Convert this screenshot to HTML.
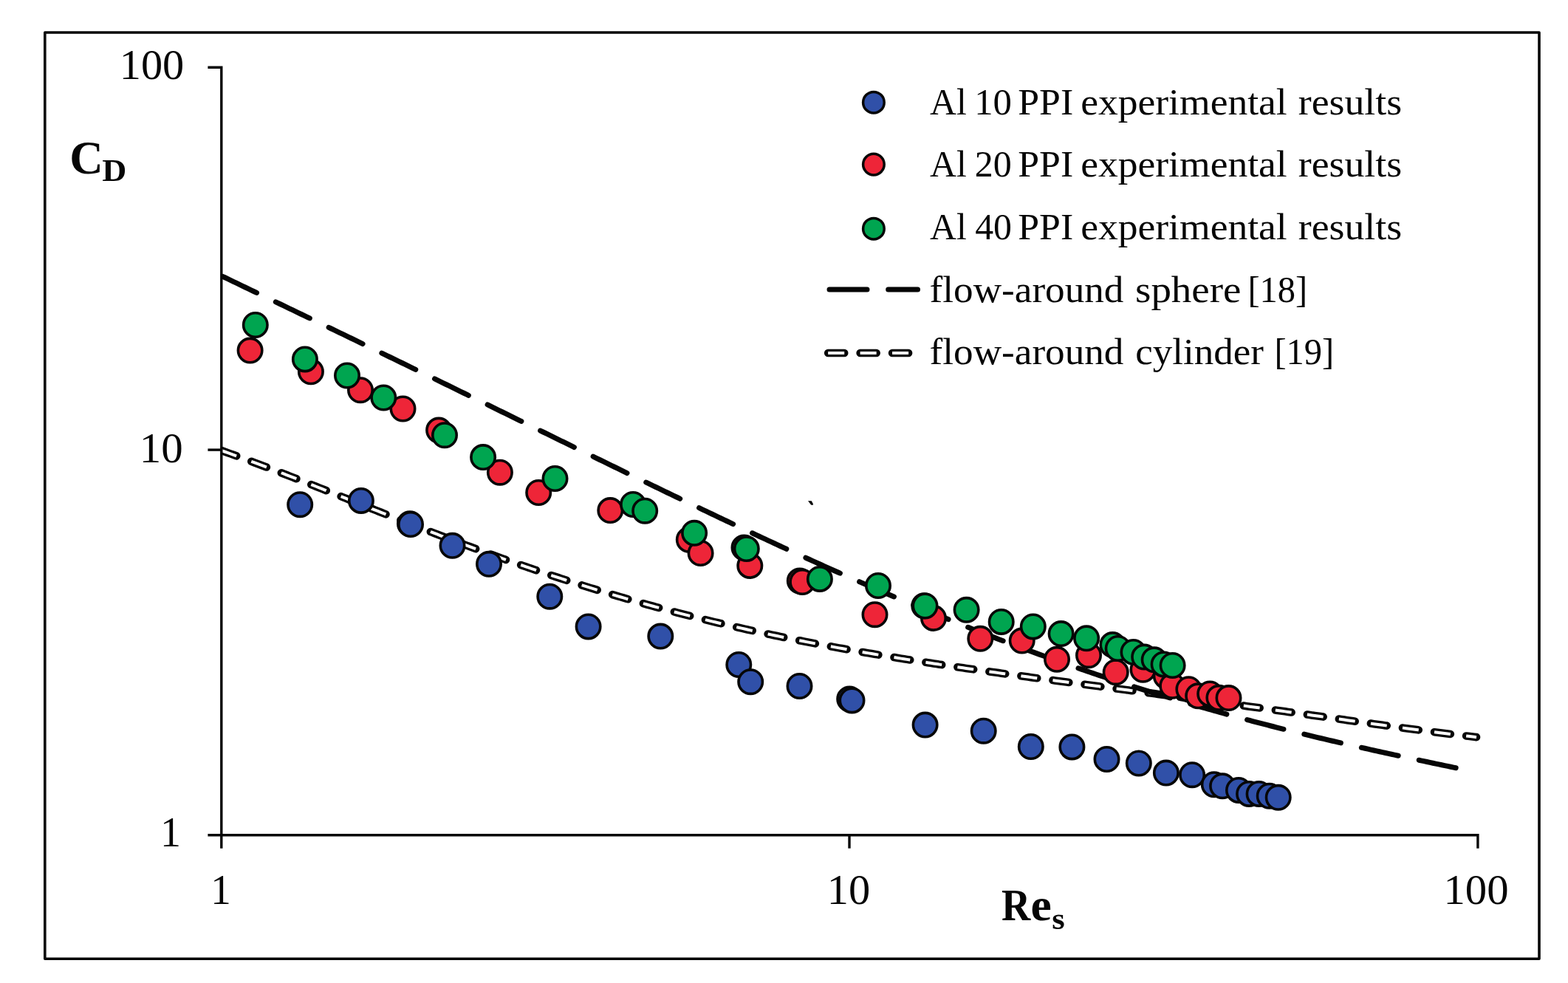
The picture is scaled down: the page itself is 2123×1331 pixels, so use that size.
<!DOCTYPE html>
<html><head><meta charset="utf-8"><style>
html,body{margin:0;padding:0;background:#fff;}
svg{display:block;}
text{font-family:"Liberation Serif","DejaVu Serif",serif;fill:#060606;}
</style></head><body>
<svg width="2123" height="1331" viewBox="0 0 2123 1331">
<rect x="0" y="0" width="2123" height="1331" fill="#fff"/>
<rect x="60.8" y="44" width="2023.2" height="1254.3" fill="none" stroke="#060606" stroke-width="3.6" stroke-linejoin="round"/>
<defs><clipPath id="pa"><rect x="300" y="60" width="1720" height="1071"/></clipPath></defs>
<g clip-path="url(#pa)" fill="none" stroke-linejoin="round">
<path d="M300.0,610.08 L304.0,611.50 L308.0,612.93 L312.0,614.37 L316.0,615.82 L320.0,617.28 L324.0,618.74 L328.0,620.21 L332.0,621.69 L336.0,623.18 L340.0,624.67 L344.0,626.17 L348.0,627.67 L352.0,629.18 L356.0,630.70 L360.0,632.22 L364.0,633.75 L368.0,635.29 L372.0,636.82 L376.0,638.37 L380.0,639.91 L384.0,641.47 L388.0,643.02 L392.0,644.58 L396.0,646.14 L400.0,647.71 L404.0,649.28 L408.0,650.85 L412.0,652.43 L416.0,654.01 L420.0,655.59 L424.0,657.17 L428.0,658.76 L432.0,660.34 L436.0,661.93 L440.0,663.52 L444.0,665.11 L448.0,666.71 L452.0,668.30 L456.0,669.89 L460.0,671.49 L464.0,673.08 L468.0,674.68 L472.0,676.27 L476.0,677.87 L480.0,679.47 L484.0,681.06 L488.0,682.66 L492.0,684.25 L496.0,685.84 L500.0,687.43 L504.0,689.03 L508.0,690.62 L512.0,692.20 L516.0,693.79 L520.0,695.38 L524.0,696.96 L528.0,698.54 L532.0,700.12 L536.0,701.70 L540.0,703.28 L544.0,704.85 L548.0,706.42 L552.0,707.99 L556.0,709.55 L560.0,711.11 L564.0,712.67 L568.0,714.23 L572.0,715.78 L576.0,717.33 L580.0,718.87 L584.0,720.42 L588.0,721.95 L592.0,723.49 L596.0,725.02 L600.0,726.55 L604.0,728.07 L608.0,729.59 L612.0,731.10 L616.0,732.61 L620.0,734.12 L624.0,735.62 L628.0,737.12 L632.0,738.61 L636.0,740.09 L640.0,741.58 L644.0,743.05 L648.0,744.53 L652.0,745.99 L656.0,747.46 L660.0,748.91 L664.0,750.36 L668.0,751.81 L672.0,753.25 L676.0,754.69 L680.0,756.12 L684.0,757.54 L688.0,758.96 L692.0,760.37 L696.0,761.78 L700.0,763.18 L704.0,764.58 L708.0,765.97 L712.0,767.35 L716.0,768.73 L720.0,770.10 L724.0,771.46 L728.0,772.82 L732.0,774.18 L736.0,775.52 L740.0,776.86 L744.0,778.20 L748.0,779.53 L752.0,780.85 L756.0,782.16 L760.0,783.47 L764.0,784.77 L768.0,786.07 L772.0,787.36 L776.0,788.64 L780.0,789.92 L784.0,791.19 L788.0,792.45 L792.0,793.70 L796.0,794.95 L800.0,796.20 L804.0,797.43 L808.0,798.66 L812.0,799.88 L816.0,801.10 L820.0,802.31 L824.0,803.51 L828.0,804.71 L832.0,805.90 L836.0,807.08 L840.0,808.25 L844.0,809.42 L848.0,810.58 L852.0,811.74 L856.0,812.89 L860.0,814.03 L864.0,815.16 L868.0,816.29 L872.0,817.41 L876.0,818.52 L880.0,819.63 L884.0,820.73 L888.0,821.83 L892.0,822.91 L896.0,823.99 L900.0,825.07 L904.0,826.13 L908.0,827.19 L912.0,828.25 L916.0,829.29 L920.0,830.33 L924.0,831.37 L928.0,832.39 L932.0,833.41 L936.0,834.43 L940.0,835.43 L944.0,836.43 L948.0,837.43 L952.0,838.41 L956.0,839.39 L960.0,840.37 L964.0,841.34 L968.0,842.30 L972.0,843.25 L976.0,844.20 L980.0,845.14 L984.0,846.08 L988.0,847.01 L992.0,847.93 L996.0,848.85 L1000.0,849.76 L1004.0,850.67 L1008.0,851.57 L1012.0,852.46 L1016.0,853.35 L1020.0,854.23 L1024.0,855.10 L1028.0,855.97 L1032.0,856.83 L1036.0,857.69 L1040.0,858.54 L1044.0,859.39 L1048.0,860.23 L1052.0,861.06 L1056.0,861.89 L1060.0,862.72 L1064.0,863.53 L1068.0,864.35 L1072.0,865.15 L1076.0,865.95 L1080.0,866.75 L1084.0,867.54 L1088.0,868.33 L1092.0,869.11 L1096.0,869.88 L1100.0,870.65 L1104.0,871.42 L1108.0,872.18 L1112.0,872.93 L1116.0,873.68 L1120.0,874.43 L1124.0,875.17 L1128.0,875.90 L1132.0,876.63 L1136.0,877.36 L1140.0,878.08 L1144.0,878.80 L1148.0,879.51 L1152.0,880.22 L1156.0,880.92 L1160.0,881.62 L1164.0,882.31 L1168.0,883.00 L1172.0,883.69 L1176.0,884.37 L1180.0,885.05 L1184.0,885.72 L1188.0,886.39 L1192.0,887.06 L1196.0,887.72 L1200.0,888.38 L1204.0,889.03 L1208.0,889.68 L1212.0,890.33 L1216.0,890.98 L1220.0,891.62 L1224.0,892.25 L1228.0,892.89 L1232.0,893.52 L1236.0,894.14 L1240.0,894.76 L1244.0,895.38 L1248.0,896.00 L1252.0,896.62 L1256.0,897.23 L1260.0,897.83 L1264.0,898.44 L1268.0,899.04 L1272.0,899.64 L1276.0,900.24 L1280.0,900.83 L1284.0,901.42 L1288.0,902.01 L1292.0,902.60 L1296.0,903.18 L1300.0,903.76 L1304.0,904.34 L1308.0,904.92 L1312.0,905.49 L1316.0,906.06 L1320.0,906.63 L1324.0,907.20 L1328.0,907.77 L1332.0,908.33 L1336.0,908.89 L1340.0,909.45 L1344.0,910.01 L1348.0,910.57 L1352.0,911.12 L1356.0,911.67 L1360.0,912.23 L1364.0,912.78 L1368.0,913.32 L1372.0,913.87 L1376.0,914.42 L1380.0,914.96 L1384.0,915.51 L1388.0,916.05 L1392.0,916.59 L1396.0,917.13 L1400.0,917.67 L1404.0,918.20 L1408.0,918.74 L1412.0,919.28 L1416.0,919.81 L1420.0,920.34 L1424.0,920.88 L1428.0,921.41 L1432.0,921.94 L1436.0,922.47 L1440.0,923.00 L1444.0,923.53 L1448.0,924.06 L1452.0,924.59 L1456.0,925.12 L1460.0,925.65 L1464.0,926.18 L1468.0,926.70 L1472.0,927.23 L1476.0,927.76 L1480.0,928.28 L1484.0,928.81 L1488.0,929.34 L1492.0,929.86 L1496.0,930.39 L1500.0,930.92 L1504.0,931.44 L1508.0,931.97 L1512.0,932.49 L1516.0,933.02 L1520.0,933.55 L1524.0,934.08 L1528.0,934.60 L1532.0,935.13 L1536.0,935.66 L1540.0,936.19 L1544.0,936.71 L1548.0,937.24 L1552.0,937.77 L1556.0,938.30 L1560.0,938.83 L1564.0,939.36 L1568.0,939.89 L1572.0,940.43 L1576.0,940.96 L1580.0,941.49 L1584.0,942.02 L1588.0,942.56 L1592.0,943.09 L1596.0,943.63 L1600.0,944.16 L1604.0,944.70 L1608.0,945.24 L1612.0,945.77 L1616.0,946.31 L1620.0,946.85 L1624.0,947.39 L1628.0,947.93 L1632.0,948.47 L1636.0,949.02 L1640.0,949.56 L1644.0,950.10 L1648.0,950.65 L1652.0,951.19 L1656.0,951.74 L1660.0,952.28 L1664.0,952.83 L1668.0,953.38 L1672.0,953.93 L1676.0,954.48 L1680.0,955.03 L1684.0,955.58 L1688.0,956.13 L1692.0,956.68 L1696.0,957.23 L1700.0,957.79 L1704.0,958.34 L1708.0,958.90 L1712.0,959.45 L1716.0,960.01 L1720.0,960.57 L1724.0,961.12 L1728.0,961.68 L1732.0,962.24 L1736.0,962.80 L1740.0,963.36 L1744.0,963.92 L1748.0,964.48 L1752.0,965.04 L1756.0,965.60 L1760.0,966.16 L1764.0,966.72 L1768.0,967.28 L1772.0,967.85 L1776.0,968.41 L1780.0,968.97 L1784.0,969.53 L1788.0,970.10 L1792.0,970.66 L1796.0,971.22 L1800.0,971.78 L1804.0,972.35 L1808.0,972.91 L1812.0,973.47 L1816.0,974.03 L1820.0,974.59 L1824.0,975.15 L1828.0,975.71 L1832.0,976.27 L1836.0,976.83 L1840.0,977.39 L1844.0,977.95 L1848.0,978.51 L1852.0,979.06 L1856.0,979.62 L1860.0,980.17 L1864.0,980.73 L1868.0,981.28 L1872.0,981.83 L1876.0,982.38 L1880.0,982.93 L1884.0,983.47 L1888.0,984.02 L1892.0,984.56 L1896.0,985.10 L1900.0,985.64 L1904.0,986.18 L1908.0,986.72 L1912.0,987.25 L1916.0,987.78 L1920.0,988.31 L1924.0,988.84 L1928.0,989.37 L1932.0,989.89 L1936.0,990.41 L1940.0,990.92 L1944.0,991.44 L1948.0,991.95 L1952.0,992.46 L1956.0,992.96 L1960.0,993.46 L1964.0,993.96 L1968.0,994.45 L1972.0,994.94 L1976.0,995.43 L1980.0,995.91 L1984.0,996.39 L1988.0,996.86 L1992.0,997.33 L1996.0,997.80 L1999.0,998.14" stroke="#060606" stroke-width="10.6" stroke-linecap="round" stroke-dasharray="22 21.44" stroke-dashoffset="0.57"/>
<path d="M300.0,610.08 L304.0,611.50 L308.0,612.93 L312.0,614.37 L316.0,615.82 L320.0,617.28 L324.0,618.74 L328.0,620.21 L332.0,621.69 L336.0,623.18 L340.0,624.67 L344.0,626.17 L348.0,627.67 L352.0,629.18 L356.0,630.70 L360.0,632.22 L364.0,633.75 L368.0,635.29 L372.0,636.82 L376.0,638.37 L380.0,639.91 L384.0,641.47 L388.0,643.02 L392.0,644.58 L396.0,646.14 L400.0,647.71 L404.0,649.28 L408.0,650.85 L412.0,652.43 L416.0,654.01 L420.0,655.59 L424.0,657.17 L428.0,658.76 L432.0,660.34 L436.0,661.93 L440.0,663.52 L444.0,665.11 L448.0,666.71 L452.0,668.30 L456.0,669.89 L460.0,671.49 L464.0,673.08 L468.0,674.68 L472.0,676.27 L476.0,677.87 L480.0,679.47 L484.0,681.06 L488.0,682.66 L492.0,684.25 L496.0,685.84 L500.0,687.43 L504.0,689.03 L508.0,690.62 L512.0,692.20 L516.0,693.79 L520.0,695.38 L524.0,696.96 L528.0,698.54 L532.0,700.12 L536.0,701.70 L540.0,703.28 L544.0,704.85 L548.0,706.42 L552.0,707.99 L556.0,709.55 L560.0,711.11 L564.0,712.67 L568.0,714.23 L572.0,715.78 L576.0,717.33 L580.0,718.87 L584.0,720.42 L588.0,721.95 L592.0,723.49 L596.0,725.02 L600.0,726.55 L604.0,728.07 L608.0,729.59 L612.0,731.10 L616.0,732.61 L620.0,734.12 L624.0,735.62 L628.0,737.12 L632.0,738.61 L636.0,740.09 L640.0,741.58 L644.0,743.05 L648.0,744.53 L652.0,745.99 L656.0,747.46 L660.0,748.91 L664.0,750.36 L668.0,751.81 L672.0,753.25 L676.0,754.69 L680.0,756.12 L684.0,757.54 L688.0,758.96 L692.0,760.37 L696.0,761.78 L700.0,763.18 L704.0,764.58 L708.0,765.97 L712.0,767.35 L716.0,768.73 L720.0,770.10 L724.0,771.46 L728.0,772.82 L732.0,774.18 L736.0,775.52 L740.0,776.86 L744.0,778.20 L748.0,779.53 L752.0,780.85 L756.0,782.16 L760.0,783.47 L764.0,784.77 L768.0,786.07 L772.0,787.36 L776.0,788.64 L780.0,789.92 L784.0,791.19 L788.0,792.45 L792.0,793.70 L796.0,794.95 L800.0,796.20 L804.0,797.43 L808.0,798.66 L812.0,799.88 L816.0,801.10 L820.0,802.31 L824.0,803.51 L828.0,804.71 L832.0,805.90 L836.0,807.08 L840.0,808.25 L844.0,809.42 L848.0,810.58 L852.0,811.74 L856.0,812.89 L860.0,814.03 L864.0,815.16 L868.0,816.29 L872.0,817.41 L876.0,818.52 L880.0,819.63 L884.0,820.73 L888.0,821.83 L892.0,822.91 L896.0,823.99 L900.0,825.07 L904.0,826.13 L908.0,827.19 L912.0,828.25 L916.0,829.29 L920.0,830.33 L924.0,831.37 L928.0,832.39 L932.0,833.41 L936.0,834.43 L940.0,835.43 L944.0,836.43 L948.0,837.43 L952.0,838.41 L956.0,839.39 L960.0,840.37 L964.0,841.34 L968.0,842.30 L972.0,843.25 L976.0,844.20 L980.0,845.14 L984.0,846.08 L988.0,847.01 L992.0,847.93 L996.0,848.85 L1000.0,849.76 L1004.0,850.67 L1008.0,851.57 L1012.0,852.46 L1016.0,853.35 L1020.0,854.23 L1024.0,855.10 L1028.0,855.97 L1032.0,856.83 L1036.0,857.69 L1040.0,858.54 L1044.0,859.39 L1048.0,860.23 L1052.0,861.06 L1056.0,861.89 L1060.0,862.72 L1064.0,863.53 L1068.0,864.35 L1072.0,865.15 L1076.0,865.95 L1080.0,866.75 L1084.0,867.54 L1088.0,868.33 L1092.0,869.11 L1096.0,869.88 L1100.0,870.65 L1104.0,871.42 L1108.0,872.18 L1112.0,872.93 L1116.0,873.68 L1120.0,874.43 L1124.0,875.17 L1128.0,875.90 L1132.0,876.63 L1136.0,877.36 L1140.0,878.08 L1144.0,878.80 L1148.0,879.51 L1152.0,880.22 L1156.0,880.92 L1160.0,881.62 L1164.0,882.31 L1168.0,883.00 L1172.0,883.69 L1176.0,884.37 L1180.0,885.05 L1184.0,885.72 L1188.0,886.39 L1192.0,887.06 L1196.0,887.72 L1200.0,888.38 L1204.0,889.03 L1208.0,889.68 L1212.0,890.33 L1216.0,890.98 L1220.0,891.62 L1224.0,892.25 L1228.0,892.89 L1232.0,893.52 L1236.0,894.14 L1240.0,894.76 L1244.0,895.38 L1248.0,896.00 L1252.0,896.62 L1256.0,897.23 L1260.0,897.83 L1264.0,898.44 L1268.0,899.04 L1272.0,899.64 L1276.0,900.24 L1280.0,900.83 L1284.0,901.42 L1288.0,902.01 L1292.0,902.60 L1296.0,903.18 L1300.0,903.76 L1304.0,904.34 L1308.0,904.92 L1312.0,905.49 L1316.0,906.06 L1320.0,906.63 L1324.0,907.20 L1328.0,907.77 L1332.0,908.33 L1336.0,908.89 L1340.0,909.45 L1344.0,910.01 L1348.0,910.57 L1352.0,911.12 L1356.0,911.67 L1360.0,912.23 L1364.0,912.78 L1368.0,913.32 L1372.0,913.87 L1376.0,914.42 L1380.0,914.96 L1384.0,915.51 L1388.0,916.05 L1392.0,916.59 L1396.0,917.13 L1400.0,917.67 L1404.0,918.20 L1408.0,918.74 L1412.0,919.28 L1416.0,919.81 L1420.0,920.34 L1424.0,920.88 L1428.0,921.41 L1432.0,921.94 L1436.0,922.47 L1440.0,923.00 L1444.0,923.53 L1448.0,924.06 L1452.0,924.59 L1456.0,925.12 L1460.0,925.65 L1464.0,926.18 L1468.0,926.70 L1472.0,927.23 L1476.0,927.76 L1480.0,928.28 L1484.0,928.81 L1488.0,929.34 L1492.0,929.86 L1496.0,930.39 L1500.0,930.92 L1504.0,931.44 L1508.0,931.97 L1512.0,932.49 L1516.0,933.02 L1520.0,933.55 L1524.0,934.08 L1528.0,934.60 L1532.0,935.13 L1536.0,935.66 L1540.0,936.19 L1544.0,936.71 L1548.0,937.24 L1552.0,937.77 L1556.0,938.30 L1560.0,938.83 L1564.0,939.36 L1568.0,939.89 L1572.0,940.43 L1576.0,940.96 L1580.0,941.49 L1584.0,942.02 L1588.0,942.56 L1592.0,943.09 L1596.0,943.63 L1600.0,944.16 L1604.0,944.70 L1608.0,945.24 L1612.0,945.77 L1616.0,946.31 L1620.0,946.85 L1624.0,947.39 L1628.0,947.93 L1632.0,948.47 L1636.0,949.02 L1640.0,949.56 L1644.0,950.10 L1648.0,950.65 L1652.0,951.19 L1656.0,951.74 L1660.0,952.28 L1664.0,952.83 L1668.0,953.38 L1672.0,953.93 L1676.0,954.48 L1680.0,955.03 L1684.0,955.58 L1688.0,956.13 L1692.0,956.68 L1696.0,957.23 L1700.0,957.79 L1704.0,958.34 L1708.0,958.90 L1712.0,959.45 L1716.0,960.01 L1720.0,960.57 L1724.0,961.12 L1728.0,961.68 L1732.0,962.24 L1736.0,962.80 L1740.0,963.36 L1744.0,963.92 L1748.0,964.48 L1752.0,965.04 L1756.0,965.60 L1760.0,966.16 L1764.0,966.72 L1768.0,967.28 L1772.0,967.85 L1776.0,968.41 L1780.0,968.97 L1784.0,969.53 L1788.0,970.10 L1792.0,970.66 L1796.0,971.22 L1800.0,971.78 L1804.0,972.35 L1808.0,972.91 L1812.0,973.47 L1816.0,974.03 L1820.0,974.59 L1824.0,975.15 L1828.0,975.71 L1832.0,976.27 L1836.0,976.83 L1840.0,977.39 L1844.0,977.95 L1848.0,978.51 L1852.0,979.06 L1856.0,979.62 L1860.0,980.17 L1864.0,980.73 L1868.0,981.28 L1872.0,981.83 L1876.0,982.38 L1880.0,982.93 L1884.0,983.47 L1888.0,984.02 L1892.0,984.56 L1896.0,985.10 L1900.0,985.64 L1904.0,986.18 L1908.0,986.72 L1912.0,987.25 L1916.0,987.78 L1920.0,988.31 L1924.0,988.84 L1928.0,989.37 L1932.0,989.89 L1936.0,990.41 L1940.0,990.92 L1944.0,991.44 L1948.0,991.95 L1952.0,992.46 L1956.0,992.96 L1960.0,993.46 L1964.0,993.96 L1968.0,994.45 L1972.0,994.94 L1976.0,995.43 L1980.0,995.91 L1984.0,996.39 L1988.0,996.86 L1992.0,997.33 L1996.0,997.80 L1999.0,998.14" stroke="#fff" stroke-width="4" stroke-linecap="butt" stroke-dasharray="22 21.44" stroke-dashoffset="0.57"/>
<path d="M300.0,373.61 L304.0,375.53 L308.0,377.45 L312.0,379.37 L316.0,381.29 L320.0,383.21 L324.0,385.13 L328.0,387.05 L332.0,388.97 L336.0,390.89 L340.0,392.81 L344.0,394.73 L348.0,396.65 L352.0,398.57 L356.0,400.49 L360.0,402.41 L364.0,404.33 L368.0,406.25 L372.0,408.18 L376.0,410.10 L380.0,412.02 L384.0,413.94 L388.0,415.86 L392.0,417.79 L396.0,419.71 L400.0,421.63 L404.0,423.56 L408.0,425.48 L412.0,427.40 L416.0,429.33 L420.0,431.26 L424.0,433.18 L428.0,435.11 L432.0,437.04 L436.0,438.96 L440.0,440.89 L444.0,442.82 L448.0,444.75 L452.0,446.68 L456.0,448.61 L460.0,450.54 L464.0,452.47 L468.0,454.41 L472.0,456.34 L476.0,458.27 L480.0,460.21 L484.0,462.14 L488.0,464.08 L492.0,466.02 L496.0,467.95 L500.0,469.89 L504.0,471.83 L508.0,473.77 L512.0,475.71 L516.0,477.65 L520.0,479.59 L524.0,481.53 L528.0,483.48 L532.0,485.42 L536.0,487.36 L540.0,489.31 L544.0,491.25 L548.0,493.20 L552.0,495.15 L556.0,497.09 L560.0,499.04 L564.0,500.99 L568.0,502.94 L572.0,504.89 L576.0,506.84 L580.0,508.79 L584.0,510.75 L588.0,512.70 L592.0,514.65 L596.0,516.60 L600.0,518.56 L604.0,520.51 L608.0,522.47 L612.0,524.43 L616.0,526.38 L620.0,528.34 L624.0,530.30 L628.0,532.25 L632.0,534.21 L636.0,536.17 L640.0,538.13 L644.0,540.09 L648.0,542.05 L652.0,544.01 L656.0,545.97 L660.0,547.93 L664.0,549.90 L668.0,551.86 L672.0,553.82 L676.0,555.78 L680.0,557.75 L684.0,559.71 L688.0,561.67 L692.0,563.63 L696.0,565.60 L700.0,567.56 L704.0,569.53 L708.0,571.49 L712.0,573.45 L716.0,575.42 L720.0,577.38 L724.0,579.34 L728.0,581.31 L732.0,583.27 L736.0,585.24 L740.0,587.20 L744.0,589.16 L748.0,591.13 L752.0,593.09 L756.0,595.05 L760.0,597.02 L764.0,598.98 L768.0,600.94 L772.0,602.90 L776.0,604.86 L780.0,606.82 L784.0,608.78 L788.0,610.74 L792.0,612.70 L796.0,614.66 L800.0,616.62 L804.0,618.58 L808.0,620.54 L812.0,622.49 L816.0,624.45 L820.0,626.40 L824.0,628.36 L828.0,630.31 L832.0,632.26 L836.0,634.22 L840.0,636.17 L844.0,638.12 L848.0,640.07 L852.0,642.01 L856.0,643.96 L860.0,645.91 L864.0,647.85 L868.0,649.80 L872.0,651.74 L876.0,653.68 L880.0,655.62 L884.0,657.56 L888.0,659.50 L892.0,661.44 L896.0,663.37 L900.0,665.30 L904.0,667.24 L908.0,669.17 L912.0,671.10 L916.0,673.02 L920.0,674.95 L924.0,676.87 L928.0,678.80 L932.0,680.72 L936.0,682.64 L940.0,684.55 L944.0,686.47 L948.0,688.38 L952.0,690.30 L956.0,692.21 L960.0,694.11 L964.0,696.02 L968.0,697.92 L972.0,699.83 L976.0,701.73 L980.0,703.62 L984.0,705.52 L988.0,707.41 L992.0,709.30 L996.0,711.19 L1000.0,713.08 L1004.0,714.96 L1008.0,716.84 L1012.0,718.72 L1016.0,720.60 L1020.0,722.47 L1024.0,724.34 L1028.0,726.21 L1032.0,728.08 L1036.0,729.94 L1040.0,731.80 L1044.0,733.66 L1048.0,735.51 L1052.0,737.36 L1056.0,739.21 L1060.0,741.06 L1064.0,742.90 L1068.0,744.74 L1072.0,746.58 L1076.0,748.41 L1080.0,750.24 L1084.0,752.07 L1088.0,753.89 L1092.0,755.71 L1096.0,757.53 L1100.0,759.35 L1104.0,761.16 L1108.0,762.97 L1112.0,764.77 L1116.0,766.57 L1120.0,768.37 L1124.0,770.16 L1128.0,771.95 L1132.0,773.74 L1136.0,775.52 L1140.0,777.30 L1144.0,779.07 L1148.0,780.85 L1152.0,782.61 L1156.0,784.38 L1160.0,786.14 L1164.0,787.89 L1168.0,789.65 L1172.0,791.39 L1176.0,793.14 L1180.0,794.88 L1184.0,796.61 L1188.0,798.35 L1192.0,800.07 L1196.0,801.80 L1200.0,803.52 L1204.0,805.23 L1208.0,806.94 L1212.0,808.65 L1216.0,810.35 L1220.0,812.05 L1224.0,813.74 L1228.0,815.43 L1232.0,817.11 L1236.0,818.79 L1240.0,820.47 L1244.0,822.14 L1248.0,823.80 L1252.0,825.46 L1256.0,827.12 L1260.0,828.77 L1264.0,830.42 L1268.0,832.06 L1272.0,833.70 L1276.0,835.33 L1280.0,836.96 L1284.0,838.58 L1288.0,840.20 L1292.0,841.81 L1296.0,843.42 L1300.0,845.03 L1304.0,846.62 L1308.0,848.22 L1312.0,849.81 L1316.0,851.39 L1320.0,852.97 L1324.0,854.54 L1328.0,856.11 L1332.0,857.67 L1336.0,859.23 L1340.0,860.78 L1344.0,862.32 L1348.0,863.87 L1352.0,865.40 L1356.0,866.93 L1360.0,868.46 L1364.0,869.98 L1368.0,871.49 L1372.0,873.00 L1376.0,874.51 L1380.0,876.00 L1384.0,877.50 L1388.0,878.98 L1392.0,880.47 L1396.0,881.94 L1400.0,883.41 L1404.0,884.88 L1408.0,886.34 L1412.0,887.79 L1416.0,889.24 L1420.0,890.68 L1424.0,892.12 L1428.0,893.55 L1432.0,894.98 L1436.0,896.40 L1440.0,897.81 L1444.0,899.22 L1448.0,900.63 L1452.0,902.03 L1456.0,903.42 L1460.0,904.80 L1464.0,906.18 L1468.0,907.56 L1472.0,908.93 L1476.0,910.29 L1480.0,911.65 L1484.0,913.00 L1488.0,914.35 L1492.0,915.69 L1496.0,917.02 L1500.0,918.35 L1504.0,919.67 L1508.0,920.99 L1512.0,922.30 L1516.0,923.61 L1520.0,924.91 L1524.0,926.20 L1528.0,927.49 L1532.0,928.77 L1536.0,930.05 L1540.0,931.32 L1544.0,932.59 L1548.0,933.85 L1552.0,935.10 L1556.0,936.35 L1560.0,937.59 L1564.0,938.83 L1568.0,940.06 L1572.0,941.28 L1576.0,942.50 L1580.0,943.72 L1584.0,944.92 L1588.0,946.13 L1592.0,947.32 L1596.0,948.51 L1600.0,949.70 L1604.0,950.88 L1608.0,952.05 L1612.0,953.22 L1616.0,954.39 L1620.0,955.54 L1624.0,956.69 L1628.0,957.84 L1632.0,958.98 L1636.0,960.12 L1640.0,961.25 L1644.0,962.37 L1648.0,963.49 L1652.0,964.61 L1656.0,965.71 L1660.0,966.82 L1664.0,967.91 L1668.0,969.01 L1672.0,970.09 L1676.0,971.18 L1680.0,972.25 L1684.0,973.32 L1688.0,974.39 L1692.0,975.45 L1696.0,976.51 L1700.0,977.56 L1704.0,978.61 L1708.0,979.65 L1712.0,980.68 L1716.0,981.71 L1720.0,982.74 L1724.0,983.76 L1728.0,984.78 L1732.0,985.79 L1736.0,986.80 L1740.0,987.80 L1744.0,988.80 L1748.0,989.79 L1752.0,990.78 L1756.0,991.77 L1760.0,992.75 L1764.0,993.72 L1768.0,994.69 L1772.0,995.66 L1776.0,996.62 L1780.0,997.58 L1784.0,998.54 L1788.0,999.49 L1792.0,1000.43 L1796.0,1001.38 L1800.0,1002.32 L1804.0,1003.25 L1808.0,1004.18 L1812.0,1005.11 L1816.0,1006.03 L1820.0,1006.95 L1824.0,1007.87 L1828.0,1008.78 L1832.0,1009.69 L1836.0,1010.60 L1840.0,1011.50 L1844.0,1012.40 L1848.0,1013.29 L1852.0,1014.19 L1856.0,1015.08 L1860.0,1015.96 L1864.0,1016.85 L1868.0,1017.73 L1872.0,1018.61 L1876.0,1019.48 L1880.0,1020.36 L1884.0,1021.23 L1888.0,1022.10 L1892.0,1022.96 L1896.0,1023.83 L1900.0,1024.69 L1904.0,1025.55 L1908.0,1026.40 L1912.0,1027.26 L1916.0,1028.11 L1920.0,1028.97 L1924.0,1029.82 L1928.0,1030.66 L1932.0,1031.51 L1936.0,1032.36 L1940.0,1033.20 L1944.0,1034.05 L1948.0,1034.89 L1952.0,1035.73 L1956.0,1036.57 L1960.0,1037.41 L1964.0,1038.25 L1968.0,1039.08 L1972.0,1039.92 L1976.0,1040.76 L1980.0,1041.60 L1984.0,1042.43 L1985.0,1042.64" stroke="#060606" stroke-width="7" stroke-linecap="round" stroke-dasharray="51 28.68" stroke-dashoffset="-1.68"/>
</g>
<polygon points="1094,678.2 1098.8,678.2 1101,682.5 1100.8,683.8 1098.3,683.8" fill="#060606"/>
<g stroke="#060606" stroke-width="3.4" fill="none">
<path d="M281.4,91.2 H299.8 V1148.7"/>
<path d="M281.4,609.1 H299.8"/>
<path d="M281.4,1130.7 H2000.9 V1148.7"/>
<path d="M1150,1130.7 V1148.7"/>
</g>
<g stroke="#060606" stroke-width="3.6">
<circle cx="406.2" cy="683.2" r="16.2" fill="#3050A8"/>
<circle cx="488.9" cy="677.9" r="16.2" fill="#3050A8"/>
<circle cx="555.0" cy="709.2" r="16.2" fill="#3050A8"/>
<circle cx="556.0" cy="710.0" r="16.2" fill="#3050A8"/>
<circle cx="612.5" cy="738.8" r="16.2" fill="#3050A8"/>
<circle cx="662.0" cy="763.8" r="16.2" fill="#3050A8"/>
<circle cx="744.3" cy="807.7" r="16.2" fill="#3050A8"/>
<circle cx="796.6" cy="848.4" r="16.2" fill="#3050A8"/>
<circle cx="894.3" cy="861.6" r="16.2" fill="#3050A8"/>
<circle cx="1000.3" cy="900.0" r="16.2" fill="#3050A8"/>
<circle cx="1016.2" cy="923.2" r="16.2" fill="#3050A8"/>
<circle cx="1082.5" cy="929.0" r="16.2" fill="#3050A8"/>
<circle cx="1150.2" cy="946.6" r="16.2" fill="#3050A8"/>
<circle cx="1153.5" cy="948.4" r="16.2" fill="#3050A8"/>
<circle cx="1252.6" cy="981.6" r="16.2" fill="#3050A8"/>
<circle cx="1331.7" cy="989.7" r="16.2" fill="#3050A8"/>
<circle cx="1395.8" cy="1011.0" r="16.2" fill="#3050A8"/>
<circle cx="1451.4" cy="1011.4" r="16.2" fill="#3050A8"/>
<circle cx="1498.5" cy="1028.0" r="16.2" fill="#3050A8"/>
<circle cx="1541.8" cy="1033.5" r="16.2" fill="#3050A8"/>
<circle cx="1578.9" cy="1046.6" r="16.2" fill="#3050A8"/>
<circle cx="1614.1" cy="1049.2" r="16.2" fill="#3050A8"/>
<circle cx="1643.8" cy="1062.2" r="16.2" fill="#3050A8"/>
<circle cx="1655.1" cy="1064.3" r="16.2" fill="#3050A8"/>
<circle cx="1677.0" cy="1069.9" r="16.2" fill="#3050A8"/>
<circle cx="1691.1" cy="1074.9" r="16.2" fill="#3050A8"/>
<circle cx="1704.6" cy="1074.9" r="16.2" fill="#3050A8"/>
<circle cx="1718.7" cy="1077.7" r="16.2" fill="#3050A8"/>
<circle cx="1730.7" cy="1079.8" r="16.2" fill="#3050A8"/>
<circle cx="338.6" cy="474.6" r="16.2" fill="#EE2538"/>
<circle cx="420.9" cy="503.3" r="16.2" fill="#EE2538"/>
<circle cx="488.0" cy="528.2" r="16.2" fill="#EE2538"/>
<circle cx="545.5" cy="553.5" r="16.2" fill="#EE2538"/>
<circle cx="594.1" cy="582.6" r="16.2" fill="#EE2538"/>
<circle cx="676.9" cy="639.7" r="16.2" fill="#EE2538"/>
<circle cx="729.2" cy="667.0" r="16.2" fill="#EE2538"/>
<circle cx="826.3" cy="691.1" r="16.2" fill="#EE2538"/>
<circle cx="932.8" cy="730.8" r="16.2" fill="#EE2538"/>
<circle cx="948.6" cy="749.0" r="16.2" fill="#EE2538"/>
<circle cx="1015.3" cy="765.9" r="16.2" fill="#EE2538"/>
<circle cx="1082.8" cy="786.5" r="16.2" fill="#EE2538"/>
<circle cx="1086.3" cy="788.0" r="16.2" fill="#EE2538"/>
<circle cx="1184.5" cy="832.2" r="16.2" fill="#EE2538"/>
<circle cx="1264.0" cy="836.9" r="16.2" fill="#EE2538"/>
<circle cx="1327.3" cy="864.8" r="16.2" fill="#EE2538"/>
<circle cx="1383.7" cy="867.6" r="16.2" fill="#EE2538"/>
<circle cx="1431.0" cy="892.8" r="16.2" fill="#EE2538"/>
<circle cx="1474.0" cy="887.2" r="16.2" fill="#EE2538"/>
<circle cx="1510.7" cy="910.2" r="16.2" fill="#EE2538"/>
<circle cx="1547.5" cy="906.8" r="16.2" fill="#EE2538"/>
<circle cx="1578.8" cy="915.4" r="16.2" fill="#EE2538"/>
<circle cx="1587.3" cy="928.8" r="16.2" fill="#EE2538"/>
<circle cx="1609.4" cy="933.2" r="16.2" fill="#EE2538"/>
<circle cx="1622.2" cy="942.3" r="16.2" fill="#EE2538"/>
<circle cx="1638.2" cy="939.4" r="16.2" fill="#EE2538"/>
<circle cx="1650.4" cy="944.8" r="16.2" fill="#EE2538"/>
<circle cx="1663.5" cy="945.1" r="16.2" fill="#EE2538"/>
<circle cx="345.8" cy="440.0" r="16.2" fill="#00A550"/>
<circle cx="412.9" cy="486.4" r="16.2" fill="#00A550"/>
<circle cx="470.0" cy="508.5" r="16.2" fill="#00A550"/>
<circle cx="519.3" cy="538.5" r="16.2" fill="#00A550"/>
<circle cx="602.0" cy="589.2" r="16.2" fill="#00A550"/>
<circle cx="654.1" cy="619.1" r="16.2" fill="#00A550"/>
<circle cx="751.5" cy="648.0" r="16.2" fill="#00A550"/>
<circle cx="857.1" cy="683.0" r="16.2" fill="#00A550"/>
<circle cx="873.2" cy="691.7" r="16.2" fill="#00A550"/>
<circle cx="940.1" cy="721.8" r="16.2" fill="#00A550"/>
<circle cx="1007.5" cy="741.6" r="16.2" fill="#00A550"/>
<circle cx="1010.8" cy="743.1" r="16.2" fill="#00A550"/>
<circle cx="1109.9" cy="783.9" r="16.2" fill="#00A550"/>
<circle cx="1189.0" cy="793.0" r="16.2" fill="#00A550"/>
<circle cx="1251.3" cy="820.2" r="16.2" fill="#00A550"/>
<circle cx="1252.5" cy="820.5" r="16.2" fill="#00A550"/>
<circle cx="1308.6" cy="825.8" r="16.2" fill="#00A550"/>
<circle cx="1355.7" cy="841.9" r="16.2" fill="#00A550"/>
<circle cx="1398.8" cy="848.4" r="16.2" fill="#00A550"/>
<circle cx="1436.6" cy="858.1" r="16.2" fill="#00A550"/>
<circle cx="1471.1" cy="864.3" r="16.2" fill="#00A550"/>
<circle cx="1506.4" cy="873.1" r="16.2" fill="#00A550"/>
<circle cx="1513.7" cy="878.0" r="16.2" fill="#00A550"/>
<circle cx="1534.5" cy="882.9" r="16.2" fill="#00A550"/>
<circle cx="1549.2" cy="889.6" r="16.2" fill="#00A550"/>
<circle cx="1562.7" cy="893.3" r="16.2" fill="#00A550"/>
<circle cx="1575.6" cy="899.4" r="16.2" fill="#00A550"/>
<circle cx="1587.6" cy="901.0" r="16.2" fill="#00A550"/>
</g>
<text x="161.79" y="107" font-size="56.5" textLength="87.48" lengthAdjust="spacingAndGlyphs">100</text>
<text x="188.73" y="626" font-size="56.5" textLength="58.91" lengthAdjust="spacingAndGlyphs">10</text>
<text x="217.00" y="1146" font-size="56.5" textLength="27.97" lengthAdjust="spacingAndGlyphs">1</text>
<text x="285.18" y="1224" font-size="56.5" textLength="27.54" lengthAdjust="spacingAndGlyphs">1</text>
<text x="1119.68" y="1224" font-size="56.5" textLength="58.45" lengthAdjust="spacingAndGlyphs">10</text>
<text x="1954.45" y="1224" font-size="56.5" textLength="88.14" lengthAdjust="spacingAndGlyphs">100</text>
<text y="234.5" font-weight="bold"><tspan x="94.27" font-size="63.5" textLength="45.49" lengthAdjust="spacingAndGlyphs">C</tspan><tspan x="138.39" y="244.9" font-size="42.5" textLength="33.11" lengthAdjust="spacingAndGlyphs">D</tspan></text>
<text y="1246" font-weight="bold"><tspan x="1355.91" font-size="61" textLength="39.20" lengthAdjust="spacingAndGlyphs">R</tspan><tspan x="1395.51" font-size="61" textLength="28.23" lengthAdjust="spacingAndGlyphs">e</tspan><tspan x="1424.31" y="1257.5" font-size="42" textLength="17.51" lengthAdjust="spacingAndGlyphs">s</tspan></text>
<g stroke="#060606" stroke-width="3.5">
<circle cx="1182.9" cy="138.7" r="14.3" fill="#3050A8"/>
<circle cx="1182.9" cy="222.6" r="14.3" fill="#EE2538"/>
<circle cx="1182.9" cy="309.7" r="14.3" fill="#00A550"/>
</g>
<path d="M1123,392 H1242.5" stroke="#060606" stroke-width="7" stroke-linecap="round" stroke-dasharray="51 28.68" fill="none"/>
<path d="M1121.2,478 H1242.5" stroke="#060606" stroke-width="10.6" stroke-linecap="round" stroke-dasharray="22 21.44" fill="none"/>
<path d="M1121.2,478 H1242.5" stroke="#fff" stroke-width="4" stroke-linecap="butt" stroke-dasharray="22 21.44" fill="none"/>
<text y="155.1" font-size="50"><tspan x="1259.10" font-size="50" textLength="49.69" lengthAdjust="spacingAndGlyphs">Al</tspan> <tspan x="1319.13" font-size="50" textLength="50.80" lengthAdjust="spacingAndGlyphs">10</tspan> <tspan x="1378.35" font-size="50" textLength="74.78" lengthAdjust="spacingAndGlyphs">PPI</tspan> <tspan x="1463.16" font-size="50" textLength="279.60" lengthAdjust="spacingAndGlyphs">experimental</tspan> <tspan x="1757.72" font-size="50" textLength="140.45" lengthAdjust="spacingAndGlyphs">results</tspan></text>
<text y="238.9" font-size="50"><tspan x="1259.10" font-size="50" textLength="49.69" lengthAdjust="spacingAndGlyphs">Al</tspan> <tspan x="1319.80" font-size="50" textLength="50.00" lengthAdjust="spacingAndGlyphs">20</tspan> <tspan x="1378.35" font-size="50" textLength="74.78" lengthAdjust="spacingAndGlyphs">PPI</tspan> <tspan x="1463.16" font-size="50" textLength="279.60" lengthAdjust="spacingAndGlyphs">experimental</tspan> <tspan x="1757.72" font-size="50" textLength="140.45" lengthAdjust="spacingAndGlyphs">results</tspan></text>
<text y="324.1" font-size="50"><tspan x="1259.10" font-size="50" textLength="49.69" lengthAdjust="spacingAndGlyphs">Al</tspan> <tspan x="1320.20" font-size="50" textLength="49.79" lengthAdjust="spacingAndGlyphs">40</tspan> <tspan x="1378.35" font-size="50" textLength="74.78" lengthAdjust="spacingAndGlyphs">PPI</tspan> <tspan x="1463.16" font-size="50" textLength="279.60" lengthAdjust="spacingAndGlyphs">experimental</tspan> <tspan x="1757.72" font-size="50" textLength="140.45" lengthAdjust="spacingAndGlyphs">results</tspan></text>
<text y="409.2" font-size="50"><tspan x="1258.60" font-size="50" textLength="262.88" lengthAdjust="spacingAndGlyphs">flow-around</tspan> <tspan x="1536.99" font-size="50" textLength="143.47" lengthAdjust="spacingAndGlyphs">sphere</tspan> <tspan x="1689.41" font-size="50" textLength="80.89" lengthAdjust="spacingAndGlyphs">[18]</tspan></text>
<text y="493.2" font-size="50"><tspan x="1258.60" font-size="50" textLength="262.88" lengthAdjust="spacingAndGlyphs">flow-around</tspan> <tspan x="1537.28" font-size="50" textLength="173.76" lengthAdjust="spacingAndGlyphs">cylinder</tspan> <tspan x="1725.41" font-size="50" textLength="80.89" lengthAdjust="spacingAndGlyphs">[19]</tspan></text>
</svg>
</body></html>
